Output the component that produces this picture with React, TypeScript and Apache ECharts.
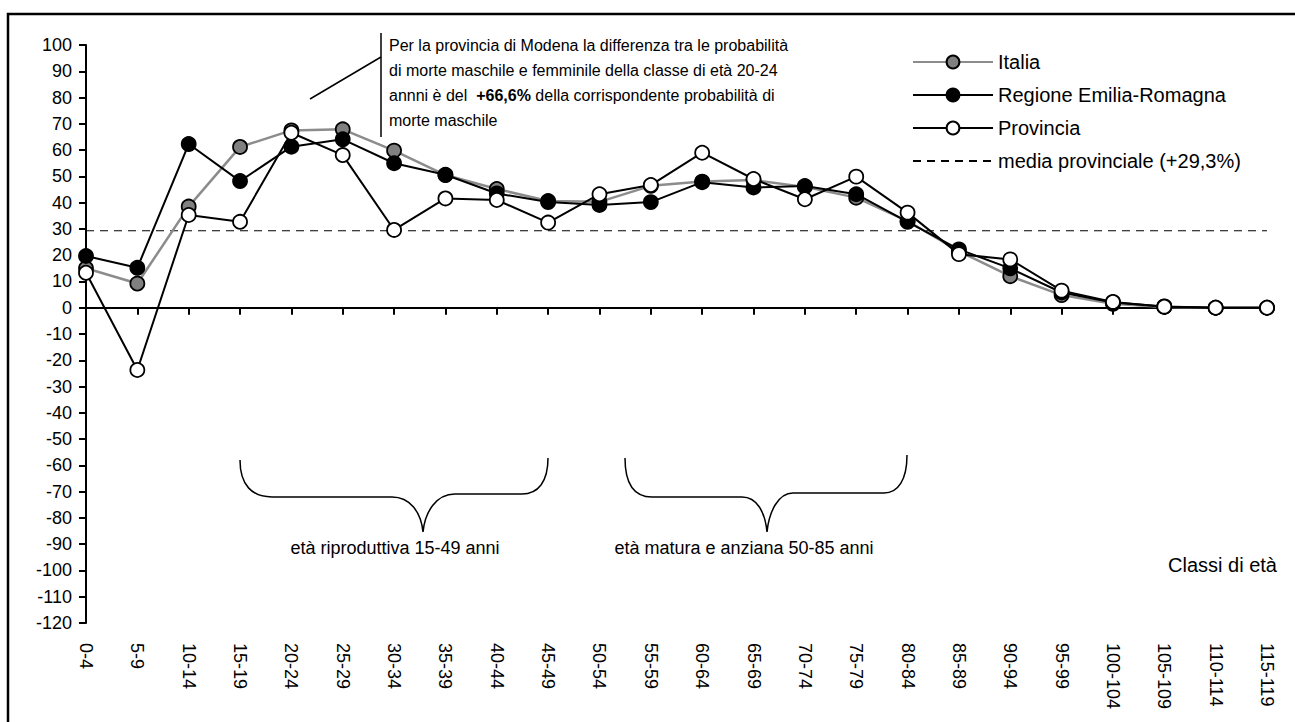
import React, { useEffect, useRef } from "react";
import * as echarts from "echarts";

const CATEGORIES = [
  "0-4", "5-9", "10-14", "15-19", "20-24", "25-29", "30-34", "35-39",
  "40-44", "45-49", "50-54", "55-59", "60-64", "65-69", "70-74", "75-79",
  "80-84", "85-89", "90-94", "95-99", "100-104", "105-109", "110-114", "115-119",
];

const ITALIA = [15, 9.2, 38.5, 61.2, 67.5, 67.9, 59.8, 50.5, 45.2, 40.6, 40.3, 46.4, 48, 48.6, 46, 41.9, 33, 21.5, 12, 4.8, 1.5, 0.3, 0, 0];
const REGIONE = [19.7, 15.2, 62.3, 48.2, 61.3, 64.1, 55, 50.6, 43.5, 40.2, 39.1, 40.2, 47.8, 45.8, 46.3, 43.2, 32.7, 22.2, 15, 5.8, 2, 0.5, 0, 0];
const PROVINCIA = [13.3, -23.7, 35.3, 32.7, 66.6, 58.1, 29.6, 41.6, 41, 32.4, 43.2, 46.7, 59, 49, 41.3, 49.9, 36.2, 20.4, 18.4, 6.5, 2.2, 0.4, 0, 0];
const MEDIA_PROVINCIALE = 29.3;
const MEDIA_SERIES = CATEGORIES.map(() => MEDIA_PROVINCIALE);

const SERIES_NAMES = ["Italia", "Regione Emilia-Romagna", "Provincia", "media provinciale (+29,3%)"];

const FONT = "'Liberation Sans', Arial, Helvetica, sans-serif";

echarts.graphic.registerShape(
  "brace1",
  echarts.graphic.extendPath(
    "M240,460 C240,485 252,497 272,497 L392,497 C410,497 421,512 423,532 C425,512 436,494 455,494 L522,494 C538,494 548,482 548,458",
    {}
  )
);
echarts.graphic.registerShape(
  "brace2",
  echarts.graphic.extendPath(
    "M625,458 C625,483 634,497 652,497 L742,497 C757,497 765,512 767,532 C769,512 778,493 793,493 L884,493 C898,493 907,480 907,455",
    {}
  )
);

export default function App() {
  const ref = useRef<HTMLDivElement>(null);

  useEffect(() => {
    if (!ref.current) return;
    const chart = echarts.init(ref.current, undefined, { renderer: "svg" });
    const symbolStyle = (fill: string) => ({ color: fill, borderColor: "#000", borderWidth: 1.8 });
    chart.setOption({
      animation: false,
      backgroundColor: "#fff",
      textStyle: { fontFamily: FONT, color: "#000" },
      grid: { left: 86, right: 28, top: 45, bottom: 99, containLabel: false },
      legend: {
        data: [
          SERIES_NAMES[0],
          SERIES_NAMES[1],
          SERIES_NAMES[2],
          { name: SERIES_NAMES[3], itemStyle: { opacity: 0 } },
        ],
        orient: "vertical",
        left: 907,
        top: 47,
        itemWidth: 80,
        itemHeight: 16,
        itemGap: 13,
        textStyle: { fontSize: 20, color: "#000", fontFamily: FONT },
      },
      xAxis: [
        {
          type: "category",
          data: CATEGORIES,
          boundaryGap: false,
          position: "bottom",
          axisLine: { show: true, onZero: true, lineStyle: { color: "#000", width: 2 } },
          axisTick: { show: true, interval: 0, length: 7, lineStyle: { color: "#000", width: 2 } },
          axisLabel: { show: false },
          splitLine: { show: false },
        },
        {
          type: "category",
          data: CATEGORIES,
          boundaryGap: false,
          position: "bottom",
          axisLine: { show: false, onZero: false },
          axisTick: { show: false },
          axisLabel: { show: true, rotate: -90, margin: 20, fontSize: 18, color: "#000", fontFamily: FONT, interval: 0 },
          splitLine: { show: false },
        },
      ],
      yAxis: {
        type: "value",
        min: -120,
        max: 100,
        interval: 10,
        axisLine: { show: true, lineStyle: { color: "#000", width: 2 } },
        axisTick: { show: true, length: 7, lineStyle: { color: "#000", width: 2 } },
        axisLabel: { fontSize: 18, color: "#000", margin: 14, fontFamily: FONT },
        splitLine: { show: false },
      },
      series: [
        {
          name: SERIES_NAMES[3],
          type: "line",
          data: MEDIA_SERIES,
          symbol: "none",
          lineStyle: { color: "#000", width: 1.2, type: [8, 6] },
          itemStyle: { color: "#000" },
          z: 1,
        },
        {
          name: SERIES_NAMES[0],
          type: "line",
          data: ITALIA,
          symbol: "circle",
          symbolSize: 14,
          lineStyle: { color: "#8c8c8c", width: 2.5 },
          itemStyle: symbolStyle("#808080"),
          z: 2,
        },
        {
          name: SERIES_NAMES[1],
          type: "line",
          data: REGIONE,
          symbol: "circle",
          symbolSize: 14,
          lineStyle: { color: "#000", width: 2 },
          itemStyle: symbolStyle("#000"),
          z: 3,
        },
        {
          name: SERIES_NAMES[2],
          type: "line",
          data: PROVINCIA,
          symbol: "circle",
          symbolSize: 14,
          lineStyle: { color: "#000", width: 2 },
          itemStyle: symbolStyle("#fff"),
          z: 4,
        },
      ],
      graphic: [
        {
          type: "rect",
          shape: { x: 8, y: 14, width: 1300, height: 730 },
          style: { fill: "none", stroke: "#000", lineWidth: 2.5 },
          silent: true,
          z: 0,
        },
        {
          type: "line",
          shape: { x1: 381, y1: 33, x2: 381, y2: 137 },
          style: { stroke: "#000", lineWidth: 1.5 },
        },
        {
          type: "line",
          shape: { x1: 310, y1: 99, x2: 381, y2: 57 },
          style: { stroke: "#000", lineWidth: 1.5 },
        },
        {
          type: "text",
          x: 389,
          y: 33,
          style: {
            text:
              "Per la provincia di Modena la differenza tra le probabilità\n" +
              "di morte maschile e femminile della classe di età 20-24\n" +
              "annni è del  {b|+66,6%} della corrispondente probabilità di\n" +
              "morte maschile",
            fontSize: 16,
            fontFamily: FONT,
            lineHeight: 25,
            fill: "#000",
            rich: {
              b: { fontSize: 16, fontWeight: "bold", fontFamily: FONT, lineHeight: 25, fill: "#000" },
            },
          },
        },
        {
          type: "brace1",
          x: 0,
          y: 0,
          style: { fill: "none", stroke: "#000", lineWidth: 1.5 },
        },
        {
          type: "brace2",
          x: 0,
          y: 0,
          style: { fill: "none", stroke: "#000", lineWidth: 1.5 },
        },
        {
          type: "text",
          x: 395,
          y: 548,
          style: {
            text: "età riproduttiva 15-49 anni",
            fontSize: 18,
            fontFamily: FONT,
            fill: "#000",
            align: "center",
            verticalAlign: "middle",
          },
        },
        {
          type: "text",
          x: 744,
          y: 548,
          style: {
            text: "età matura e anziana 50-85 anni",
            fontSize: 18,
            fontFamily: FONT,
            fill: "#000",
            align: "center",
            verticalAlign: "middle",
          },
        },
        {
          type: "text",
          x: 1168,
          y: 565,
          style: {
            text: "Classi di età",
            fontSize: 20,
            fontFamily: FONT,
            fill: "#000",
            align: "left",
            verticalAlign: "middle",
          },
        },
      ],
    });
    return () => chart.dispose();
  }, []);

  return (
    <div
      ref={ref}
      style={{ position: "fixed", left: 0, top: 0, width: 1295, height: 722, background: "#fff" }}
    />
  );
}
